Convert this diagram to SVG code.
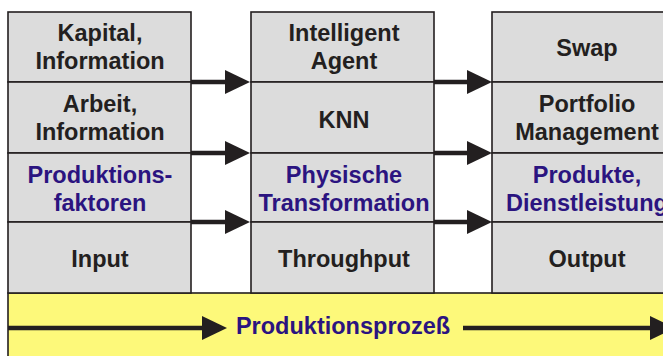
<svg xmlns="http://www.w3.org/2000/svg" width="663" height="356" viewBox="0 0 663 356">
<defs>
<style>
.cell{fill:#dcdcdc;stroke:#231f20;stroke-width:1.6}
.band{fill:#fdf97a;stroke:#231f20;stroke-width:1.6}
.t{font-family:"Liberation Sans",Arial,sans-serif;font-weight:bold;font-size:23.5px;text-anchor:middle;fill:#231f20}
.b{fill:#2b1480}
.ln{stroke:#231f20;stroke-width:4.5;fill:none}
.hd{fill:#231f20}
</style>
</defs>
<rect width="663" height="356" fill="#ffffff"/>
<g id="band">
<rect class="band" x="8" y="293" width="680" height="80"/>
</g>
<g id="col1">
<rect class="cell" x="8" y="12" width="183" height="70"/>
<rect class="cell" x="8" y="82" width="183" height="71"/>
<rect class="cell" x="8" y="153" width="183" height="69"/>
<rect class="cell" x="8" y="222" width="183" height="71"/>
<text class="t" x="100" y="41">Kapital,</text>
<text class="t" x="100" y="69">Information</text>
<text class="t" x="100" y="112">Arbeit,</text>
<text class="t" x="100" y="140">Information</text>
<text class="t b" x="100" y="183">Produktions-</text>
<text class="t b" x="100" y="211">faktoren</text>
<text class="t" x="100" y="267">Input</text>
</g>
<g id="col2">
<rect class="cell" x="251" y="12" width="183" height="70"/>
<rect class="cell" x="251" y="82" width="183" height="71"/>
<rect class="cell" x="251" y="153" width="183" height="69"/>
<rect class="cell" x="251" y="222" width="183" height="71"/>
<text class="t" x="344" y="41">Intelligent</text>
<text class="t" x="344" y="69">Agent</text>
<text class="t" x="344" y="128">KNN</text>
<text class="t b" x="344" y="183">Physische</text>
<text class="t b" x="344" y="211">Transformation</text>
<text class="t" x="344" y="267">Throughput</text>
</g>
<g id="col3">
<rect class="cell" x="492" y="12" width="190" height="70"/>
<rect class="cell" x="492" y="82" width="190" height="71"/>
<rect class="cell" x="492" y="153" width="190" height="69"/>
<rect class="cell" x="492" y="222" width="190" height="71"/>
<text class="t" x="587" y="56">Swap</text>
<text class="t" x="587" y="112">Portfolio</text>
<text class="t" x="587" y="140">Management</text>
<text class="t b" x="587" y="183">Produkte,</text>
<text class="t b" x="587" y="211">Dienstleistung</text>
<text class="t" x="587" y="267">Output</text>
</g>
<g id="connectors">
<line class="ln" x1="191" y1="82" x2="228" y2="82"/>
<polygon class="hd" points="225,70 250,82 225,94"/>
<line class="ln" x1="191" y1="153" x2="228" y2="153"/>
<polygon class="hd" points="225,141 250,153 225,165"/>
<line class="ln" x1="191" y1="222" x2="228" y2="222"/>
<polygon class="hd" points="225,210 250,222 225,234"/>
<line class="ln" x1="434" y1="82" x2="470" y2="82"/>
<polygon class="hd" points="467,70 492,82 467,94"/>
<line class="ln" x1="434" y1="153" x2="470" y2="153"/>
<polygon class="hd" points="467,141 492,153 467,165"/>
<line class="ln" x1="434" y1="222" x2="470" y2="222"/>
<polygon class="hd" points="467,210 492,222 467,234"/>
<line class="ln" x1="8" y1="328" x2="205" y2="328"/>
<polygon class="hd" points="202,316 227,328 202,340"/>
<line class="ln" x1="463" y1="328" x2="653" y2="328"/>
<polygon class="hd" points="650,316 675,328 650,340"/>
</g>
<g id="label">
<text class="t b" x="343" y="334">Produktionsprozeß</text>
</g>
</svg>
